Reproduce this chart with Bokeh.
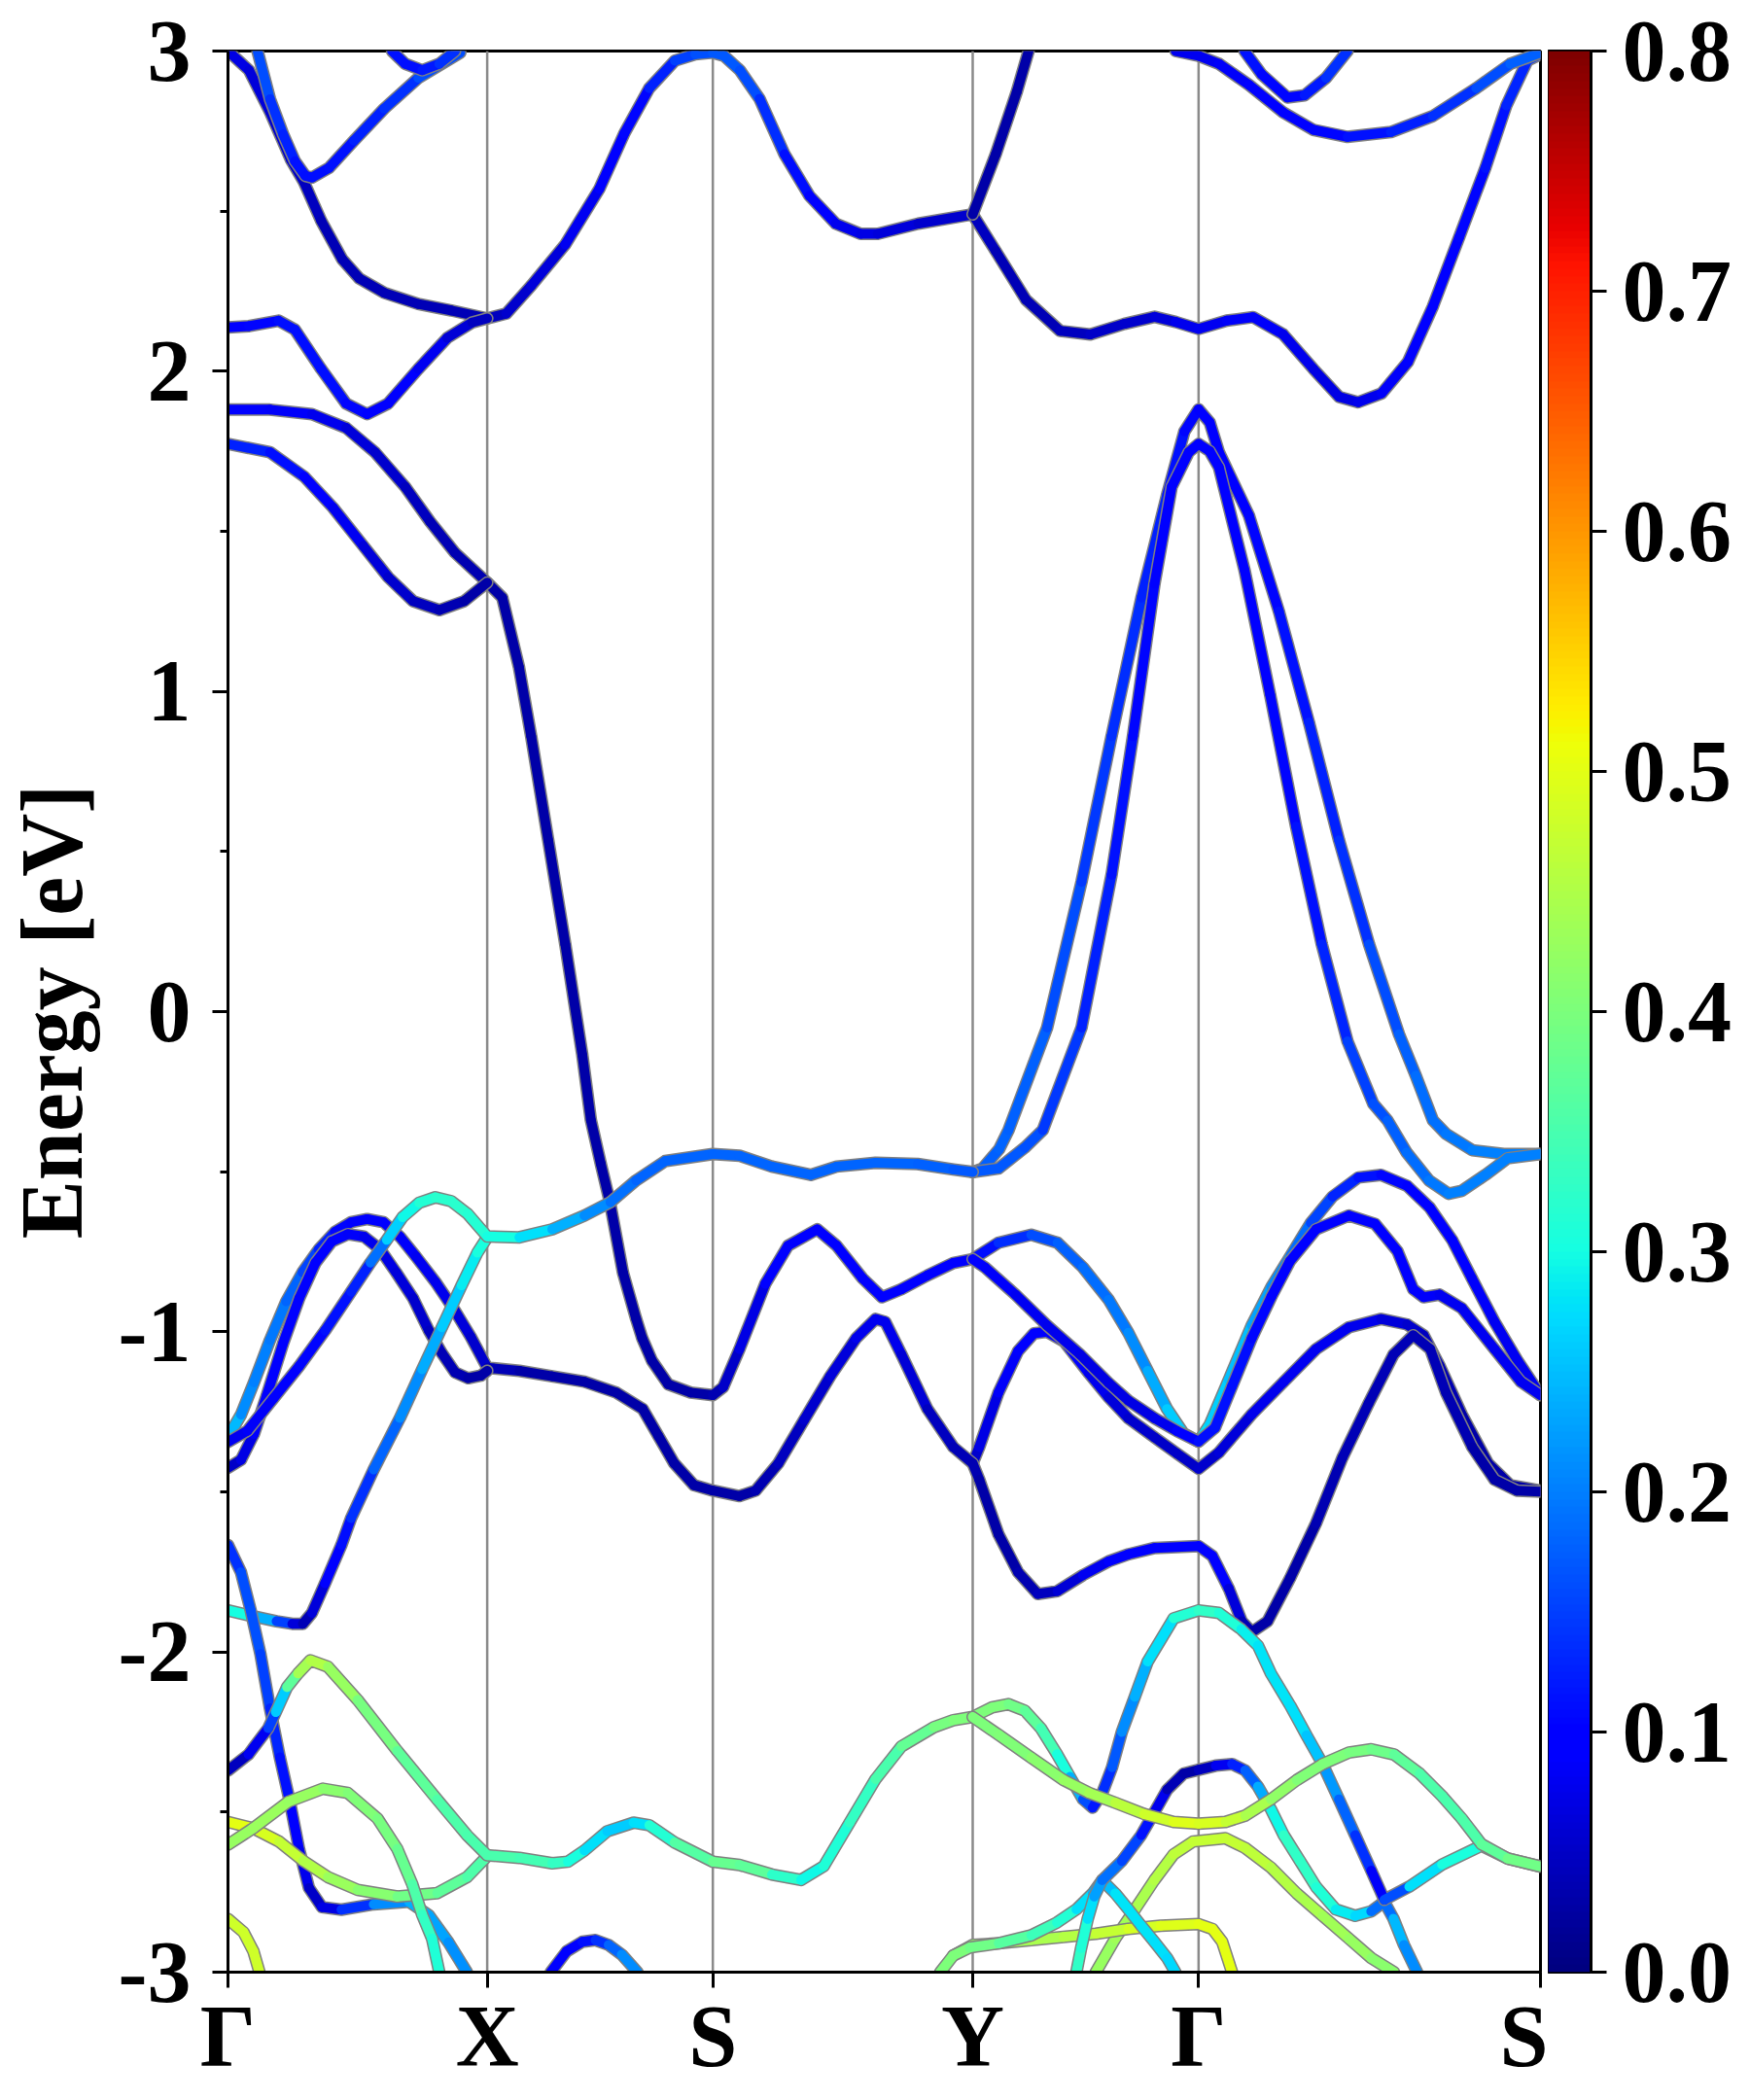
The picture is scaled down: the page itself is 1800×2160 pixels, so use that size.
import numpy as np
from bokeh.plotting import figure
from bokeh.layouts import row
from bokeh.models import FixedTicker, PrintfTickFormatter, ColumnDataSource, LinearColorMapper, Range1d
from bokeh.transform import linear_cmap
from bokeh.embed import file_html
from bokeh.resources import INLINE

# ---------------- data ----------------
k_ticks = [0, 0.1975, 0.3694, 0.5674, 0.7395, 1]
k_labels = ["Γ", "X", "S", "Y", "Γ", "S"]
e_ticks = [-3, -2, -1, 0, 1, 2, 3]
e_minor = [-2.5, -1.5, -0.5, 0.5, 1.5, 2.5]
cbar_ticks = [0.0, 0.1, 0.2, 0.3, 0.4, 0.5, 0.6, 0.7, 0.8]

# each band: (k, energy [eV], weight)
band_top_a = [(0.000, 3.00, 0.07), (0.016, 2.94, 0.07), (0.032, 2.81, 0.06), (0.048, 2.66, 0.05), (0.058, 2.59, 0.05),
              (0.071, 2.47, 0.04), (0.087, 2.35, 0.04), (0.100, 2.29, 0.04), (0.119, 2.245, 0.04), (0.145, 2.21, 0.04),
              (0.170, 2.19, 0.04), (0.1975, 2.165, 0.04), (0.212, 2.18, 0.05), (0.231, 2.267, 0.06), (0.257, 2.396, 0.07),
              (0.283, 2.57, 0.09), (0.302, 2.743, 0.10), (0.321, 2.884, 0.11), (0.3405, 2.97, 0.14), (0.356, 2.99, 0.16),
              (0.3694, 2.995, 0.17), (0.378, 2.985, 0.17),
              (0.390, 2.94, 0.17), (0.405, 2.851, 0.15), (0.424, 2.678, 0.12), (0.443, 2.548, 0.10), (0.463, 2.461, 0.08),
              (0.482, 2.429, 0.07), (0.495, 2.429, 0.07), (0.526, 2.461, 0.06), (0.5674, 2.49, 0.05), (0.585, 2.375, 0.04),
              (0.608, 2.223, 0.04), (0.634, 2.126, 0.04), (0.657, 2.115, 0.05), (0.683, 2.148, 0.05), (0.706, 2.17, 0.06),
              (0.722, 2.154, 0.07), (0.7395, 2.132, 0.08), (0.761, 2.158, 0.08), (0.781, 2.169, 0.09), (0.804, 2.115, 0.08),
              (0.827, 2.007, 0.07), (0.8465, 1.92, 0.07), (0.861, 1.903, 0.07), (0.879, 1.931, 0.08), (0.899, 2.029, 0.09),
              (0.918, 2.202, 0.10), (0.938, 2.418, 0.10), (0.958, 2.635, 0.11), (0.974, 2.83, 0.12), (0.990, 2.97, 0.14),
              (1.000, 2.99, 0.15)]
band_top_b = [(0.0225, 3.0, 0.17), (0.032, 2.85, 0.15), (0.042, 2.74, 0.13), (0.051, 2.656, 0.12), (0.059, 2.61, 0.11),
              (0.064, 2.605, 0.11), (0.077, 2.635, 0.11), (0.096, 2.72, 0.12), (0.119, 2.82, 0.13), (0.145, 2.916, 0.15),
              (0.177, 2.995, 0.17)]
band_top_c = [(0.125, 3.0, 0.12), (0.135, 2.96, 0.11), (0.148, 2.94, 0.11), (0.161, 2.96, 0.13), (0.173, 3.0, 0.15)]
band_l1 = [(0.000, 2.137, 0.10), (0.016, 2.141, 0.10), (0.0385, 2.158, 0.11), (0.051, 2.13, 0.11), (0.071, 2.007, 0.11),
           (0.090, 1.899, 0.11), (0.106, 1.866, 0.10), (0.122, 1.899, 0.10), (0.145, 2.007, 0.09), (0.167, 2.104, 0.07),
           (0.186, 2.152, 0.05), (0.1975, 2.165, 0.04)]
band_l2 = [(0.000, 1.88, 0.09), (0.032, 1.88, 0.09), (0.064, 1.866, 0.08), (0.090, 1.823, 0.07), (0.112, 1.747, 0.06),
           (0.135, 1.639, 0.05), (0.154, 1.53, 0.04), (0.173, 1.433, 0.04), (0.1975, 1.34, 0.03), (0.209, 1.293, 0.03),
           (0.2217, 1.076, 0.03), (0.231, 0.86, 0.03), (0.244, 0.535, 0.03), (0.257, 0.21, 0.03), (0.270, -0.136, 0.03),
           (0.2765, -0.339, 0.03), (0.284, -0.475, 0.03), (0.291, -0.595, 0.03), (0.301, -0.816, 0.03), (0.311, -0.96, 0.03),
           (0.3156, -1.02, 0.03), (0.323, -1.09, 0.03), (0.3354, -1.164, 0.03), (0.3526, -1.19, 0.03), (0.3694, -1.198, 0.03),
           (0.3773, -1.173, 0.04), (0.3897, -1.054, 0.06), (0.4094, -0.85, 0.08), (0.4267, -0.731, 0.10), (0.449, -0.68, 0.10),
           (0.4637, -0.731, 0.10), (0.4835, -0.833, 0.10), (0.4983, -0.892, 0.10), (0.5131, -0.867, 0.10), (0.5329, -0.824, 0.10),
           (0.5526, -0.785, 0.10), (0.5674, -0.773, 0.10), (0.587, -0.722, 0.12), (0.612, -0.697, 0.15), (0.632, -0.722, 0.17),
           (0.6514, -0.799, 0.18), (0.671, -0.90, 0.19), (0.686, -1.003, 0.20), (0.7007, -1.122, 0.22), (0.7155, -1.241, 0.25),
           (0.7279, -1.317, 0.27), (0.7395, -1.343, 0.28), (0.748, -1.29, 0.27), (0.7625, -1.15, 0.26), (0.780, -0.98, 0.24),
           (0.795, -0.86, 0.22), (0.810, -0.76, 0.20), (0.825, -0.66, 0.17), (0.8415, -0.578, 0.14), (0.8612, -0.518, 0.12),
           (0.8785, -0.51, 0.11), (0.8983, -0.544, 0.10), (0.9156, -0.612, 0.10), (0.9328, -0.714, 0.09), (0.9477, -0.833, 0.09),
           (0.965, -0.969, 0.08), (0.9822, -1.088, 0.08), (1.000, -1.198, 0.08)]
band_l3 = [(0.000, 1.773, 0.13), (0.032, 1.747, 0.12), (0.058, 1.671, 0.10), (0.080, 1.574, 0.09), (0.103, 1.455, 0.07),
           (0.122, 1.357, 0.06), (0.141, 1.282, 0.05), (0.161, 1.254, 0.04), (0.180, 1.282, 0.03), (0.1975, 1.34, 0.03)]
band_y_up = [(0.5674, 2.49, 0.03), (0.585, 2.678, 0.03), (0.601, 2.873, 0.03), (0.610, 3.0, 0.03)]
band_tr1 = [(0.7745, 3.0, 0.12), (0.7876, 2.927, 0.11), (0.8072, 2.855, 0.10), (0.8203, 2.862, 0.11), (0.8366, 2.916, 0.13),
            (0.853, 3.0, 0.15)]
band_tr2 = [(0.722, 3.0, 0.08), (0.7395, 2.985, 0.08), (0.755, 2.96, 0.08), (0.778, 2.894, 0.09), (0.804, 2.808, 0.10),
            (0.827, 2.754, 0.10), (0.853, 2.732, 0.11), (0.886, 2.747, 0.12), (0.918, 2.797, 0.13), (0.951, 2.884, 0.15),
            (0.977, 2.96, 0.17), (1.000, 2.995, 0.18)]
band_pk1 = [(0.5674, -0.501, 0.17), (0.5749, -0.49, 0.17), (0.5875, -0.43, 0.18), (0.5947, -0.37, 0.18), (0.6241, -0.05, 0.17),
            (0.6503, 0.405, 0.15), (0.6732, 0.86, 0.14), (0.696, 1.293, 0.13), (0.7157, 1.617, 0.12), (0.7287, 1.812, 0.11),
            (0.7395, 1.881, 0.10), (0.748, 1.84, 0.10), (0.755, 1.747, 0.10), (0.7778, 1.55, 0.10), (0.8007, 1.25, 0.11),
            (0.8236, 0.903, 0.12), (0.8465, 0.535, 0.13), (0.8694, 0.21, 0.15), (0.8922, -0.071, 0.17), (0.905, -0.20, 0.18),
            (0.918, -0.339, 0.19), (0.928, -0.382, 0.19), (0.948, -0.433, 0.20), (0.972, -0.445, 0.20), (1.000, -0.445, 0.20)]
band_pk2 = [(0.5674, -0.501, 0.17), (0.587, -0.49, 0.17), (0.607, -0.425, 0.17), (0.6208, -0.37, 0.16), (0.6503, -0.05, 0.13),
            (0.6732, 0.427, 0.12), (0.6895, 0.86, 0.11), (0.7059, 1.336, 0.10), (0.719, 1.639, 0.10), (0.732, 1.747, 0.10),
            (0.7395, 1.773, 0.10), (0.748, 1.75, 0.10), (0.755, 1.70, 0.10), (0.7745, 1.379, 0.10), (0.794, 0.99, 0.10),
            (0.8138, 0.578, 0.11), (0.8334, 0.21, 0.12), (0.853, -0.093, 0.14), (0.8726, -0.288, 0.16), (0.8835, -0.34, 0.17),
            (0.898, -0.44, 0.18), (0.915, -0.527, 0.19), (0.930, -0.569, 0.20), (0.940, -0.56, 0.20), (0.958, -0.51, 0.20),
            (0.975, -0.458, 0.20), (1.000, -0.445, 0.20)]
band_cy = [(0.000, -1.344, 0.08), (0.0148, -1.309, 0.08), (0.0346, -1.208, 0.09), (0.0543, -1.107, 0.10), (0.074, -0.996, 0.11),
           (0.0938, -0.875, 0.12), (0.1086, -0.784, 0.13), (0.121, -0.713, 0.25), (0.133, -0.642, 0.28), (0.1457, -0.597, 0.31),
           (0.158, -0.58, 0.32), (0.170, -0.592, 0.32), (0.1827, -0.632, 0.32), (0.1975, -0.702, 0.31), (0.222, -0.705, 0.29),
           (0.247, -0.68, 0.26), (0.2716, -0.637, 0.22), (0.2914, -0.595, 0.20), (0.311, -0.527, 0.18), (0.333, -0.467, 0.18),
           (0.3694, -0.445, 0.18), (0.3897, -0.45, 0.18), (0.4144, -0.484, 0.18), (0.444, -0.51, 0.18), (0.4637, -0.484, 0.18),
           (0.4934, -0.472, 0.18), (0.5255, -0.476, 0.18), (0.5526, -0.493, 0.17), (0.5674, -0.501, 0.17)]
band_dg = [(0.000, -1.87, 0.32), (0.0173, -1.887, 0.28), (0.037, -1.904, 0.20), (0.049, -1.912, 0.10), (0.057, -1.912, 0.03),
           (0.064, -1.878, 0.05), (0.074, -1.785, 0.08), (0.0864, -1.666, 0.10), (0.0938, -1.582, 0.12), (0.111, -1.43, 0.16),
           (0.131, -1.269, 0.20), (0.148, -1.117, 0.22), (0.163, -0.986, 0.25), (0.178, -0.855, 0.27), (0.190, -0.753, 0.30),
           (0.1975, -0.705, 0.31)]
band_ba1 = [(0.000, -1.329, 0.27), (0.0099, -1.259, 0.22), (0.0198, -1.158, 0.20), (0.032, -1.026, 0.20), (0.0444, -0.905, 0.19),
            (0.0568, -0.814, 0.17), (0.0691, -0.743, 0.14), (0.0815, -0.688, 0.11), (0.0938, -0.658, 0.10), (0.106, -0.648, 0.10),
            (0.1185, -0.658, 0.09), (0.131, -0.703, 0.09), (0.143, -0.764, 0.08), (0.158, -0.844, 0.08), (0.173, -0.935, 0.07),
            (0.185, -1.016, 0.06), (0.1975, -1.112, 0.05), (0.222, -1.122, 0.03), (0.247, -1.139, 0.03), (0.2716, -1.156, 0.03),
            (0.296, -1.19, 0.03), (0.316, -1.241, 0.03), (0.328, -1.326, 0.03), (0.340, -1.411, 0.03), (0.355, -1.479, 0.03),
            (0.3694, -1.496, 0.03), (0.3897, -1.513, 0.03), (0.402, -1.496, 0.03), (0.4193, -1.411, 0.04), (0.439, -1.275, 0.05),
            (0.4588, -1.139, 0.06), (0.4786, -1.02, 0.07), (0.4934, -0.96, 0.08), (0.5008, -0.969, 0.08), (0.5131, -1.071, 0.07),
            (0.5329, -1.241, 0.05), (0.5526, -1.36, 0.04), (0.5674, -1.411, 0.04), (0.5724, -1.462, 0.03), (0.587, -1.632, 0.03),
            (0.602, -1.751, 0.03), (0.617, -1.819, 0.04), (0.632, -1.81, 0.05), (0.6514, -1.76, 0.07), (0.671, -1.717, 0.09),
            (0.686, -1.695, 0.10), (0.706, -1.675, 0.10), (0.7395, -1.669, 0.10), (0.750, -1.70, 0.10), (0.7625, -1.802, 0.08),
            (0.7724, -1.904, 0.05), (0.780, -1.938, 0.03), (0.7921, -1.904, 0.03), (0.8094, -1.768, 0.03), (0.829, -1.598, 0.03),
            (0.849, -1.394, 0.04), (0.869, -1.224, 0.04), (0.888, -1.071, 0.04), (0.903, -1.011, 0.04), (0.916, -1.054, 0.04),
            (0.928, -1.19, 0.04), (0.948, -1.36, 0.03), (0.965, -1.462, 0.03), (0.982, -1.496, 0.03), (1.000, -1.499, 0.03)]
band_ba2 = [(0.000, -1.425, 0.04), (0.0099, -1.40, 0.06), (0.0198, -1.319, 0.08), (0.0296, -1.198, 0.10), (0.042, -1.036, 0.10),
            (0.0543, -0.895, 0.10), (0.0667, -0.784, 0.10), (0.079, -0.718, 0.10), (0.0914, -0.695, 0.09), (0.1037, -0.703, 0.08),
            (0.116, -0.743, 0.07), (0.128, -0.814, 0.07), (0.141, -0.895, 0.06), (0.153, -0.996, 0.05), (0.163, -1.067, 0.04),
            (0.173, -1.127, 0.04), (0.183, -1.145, 0.03), (0.1926, -1.137, 0.03), (0.1975, -1.122, 0.03)]
band_d1 = [(0.5674, -0.773, 0.10), (0.577, -0.80, 0.09), (0.600, -0.884, 0.08), (0.624, -0.98, 0.08), (0.649, -1.07, 0.07),
           (0.671, -1.16, 0.07), (0.686, -1.215, 0.07), (0.706, -1.27, 0.07), (0.723, -1.31, 0.08), (0.7395, -1.343, 0.10),
           (0.752, -1.30, 0.12), (0.765, -1.17, 0.11), (0.780, -1.02, 0.11), (0.795, -0.89, 0.10), (0.809, -0.78, 0.10),
           (0.829, -0.68, 0.10), (0.854, -0.637, 0.10), (0.874, -0.663, 0.09), (0.891, -0.748, 0.09), (0.903, -0.867, 0.09),
           (0.911, -0.892, 0.09), (0.923, -0.884, 0.08), (0.940, -0.926, 0.08), (0.965, -1.054, 0.08), (0.985, -1.156, 0.08),
           (1.000, -1.198, 0.08)]
band_d2 = [(0.5674, -1.411, 0.05), (0.5724, -1.36, 0.06), (0.587, -1.19, 0.08), (0.602, -1.06, 0.09), (0.614, -1.005, 0.10),
           (0.624, -1.00, 0.10), (0.637, -1.03, 0.10), (0.656, -1.13, 0.08), (0.671, -1.205, 0.07), (0.686, -1.27, 0.06),
           (0.706, -1.33, 0.05), (0.723, -1.38, 0.05), (0.7395, -1.428, 0.05), (0.755, -1.377, 0.06), (0.780, -1.258, 0.07),
           (0.8044, -1.156, 0.08), (0.829, -1.054, 0.08), (0.854, -0.986, 0.08), (0.8785, -0.96, 0.07), (0.8983, -0.977, 0.06),
           (0.911, -1.011, 0.05), (0.923, -1.105, 0.04), (0.940, -1.258, 0.03), (0.960, -1.411, 0.03), (0.977, -1.479, 0.03),
           (1.000, -1.496, 0.03)]
band_steep = [(0.000, -1.666, 0.13), (0.0099, -1.751, 0.15), (0.0173, -1.87, 0.17), (0.0247, -2.006, 0.16), (0.032, -2.176, 0.14),
              (0.0395, -2.329, 0.12), (0.047, -2.465, 0.11), (0.0543, -2.618, 0.09), (0.0617, -2.737, 0.06), (0.0716, -2.797, 0.04),
              (0.0864, -2.805, 0.10), (0.111, -2.788, 0.18), (0.138, -2.78, 0.24), (0.153, -2.822, 0.24), (0.168, -2.907, 0.22),
              (0.182, -3.0, 0.21)]
band_green = [(0.000, -2.37, 0.03), (0.0156, -2.32, 0.06), (0.0307, -2.238, 0.10), (0.0364, -2.188, 0.20), (0.045, -2.11, 0.32),
              (0.0534, -2.067, 0.42), (0.0628, -2.026, 0.46), (0.0761, -2.046, 0.44), (0.0988, -2.15, 0.41), (0.129, -2.309, 0.38),
              (0.1594, -2.461, 0.36), (0.1821, -2.572, 0.35), (0.1975, -2.635, 0.35), (0.222, -2.643, 0.35), (0.247, -2.66, 0.34),
              (0.259, -2.655, 0.32), (0.2716, -2.62, 0.29), (0.289, -2.56, 0.26), (0.309, -2.533, 0.26), (0.321, -2.541, 0.29),
              (0.3403, -2.595, 0.34), (0.3694, -2.655, 0.38), (0.3897, -2.665, 0.38), (0.4144, -2.695, 0.36), (0.4366, -2.712, 0.29),
              (0.4539, -2.669, 0.30), (0.4736, -2.533, 0.32), (0.4934, -2.397, 0.34), (0.5131, -2.295, 0.36), (0.5378, -2.235, 0.39),
              (0.5526, -2.213, 0.40), (0.5674, -2.203, 0.40), (0.5822, -2.173, 0.40), (0.5946, -2.163, 0.40), (0.607, -2.183, 0.38),
              (0.6193, -2.238, 0.36), (0.6316, -2.319, 0.33), (0.6415, -2.39, 0.28), (0.6514, -2.46, 0.20), (0.6588, -2.486, 0.12),
              (0.6662, -2.44, 0.12), (0.6736, -2.36, 0.15), (0.681, -2.25, 0.19), (0.6909, -2.14, 0.23), (0.7007, -2.03, 0.25),
              (0.7205, -1.895, 0.30), (0.7395, -1.87, 0.33), (0.755, -1.878, 0.32), (0.772, -1.929, 0.30), (0.7847, -1.98, 0.28),
              (0.7946, -2.067, 0.28), (0.8094, -2.168, 0.28), (0.8217, -2.26, 0.27), (0.834, -2.35, 0.24), (0.8464, -2.46, 0.20),
              (0.8588, -2.572, 0.16), (0.8711, -2.683, 0.12), (0.881, -2.774, 0.05), (0.900, -2.733, 0.27), (0.925, -2.664, 0.28),
              (0.955, -2.605, 0.33), (0.975, -2.645, 0.38), (1.000, -2.67, 0.40)]
band_yellow = [(0.000, -2.531, 0.50), (0.0194, -2.551, 0.50), (0.0389, -2.592, 0.48), (0.0572, -2.652, 0.46), (0.0761, -2.703, 0.44),
               (0.0988, -2.743, 0.42), (0.129, -2.764, 0.40), (0.1594, -2.753, 0.38), (0.1821, -2.703, 0.36), (0.1975, -2.638, 0.35)]
band_lgreen = [(0.000, -2.602, 0.42), (0.0194, -2.55, 0.43), (0.0459, -2.468, 0.43), (0.0723, -2.427, 0.42), (0.0912, -2.44, 0.41),
               (0.1139, -2.52, 0.40), (0.129, -2.615, 0.39), (0.1404, -2.725, 0.37), (0.1479, -2.82, 0.34), (0.1555, -2.895, 0.32),
               (0.161, -3.0, 0.30)]
band_ybot = [(0.000, -2.834, 0.48), (0.0118, -2.875, 0.48), (0.0194, -2.935, 0.48), (0.024, -3.0, 0.48)]
band_bump = [(0.246, -3.0, 0.10), (0.258, -2.935, 0.10), (0.270, -2.905, 0.10), (0.280, -2.90, 0.12), (0.290, -2.915, 0.16),
             (0.300, -2.945, 0.20), (0.312, -3.0, 0.22)]
band_ylow = [(0.5674, -2.203, 0.40), (0.5872, -2.259, 0.40), (0.612, -2.33, 0.41), (0.6366, -2.40, 0.42), (0.656, -2.44, 0.43),
             (0.676, -2.471, 0.45), (0.698, -2.506, 0.47), (0.7205, -2.531, 0.49), (0.7395, -2.536, 0.50), (0.760, -2.531, 0.48),
             (0.775, -2.511, 0.46), (0.7946, -2.46, 0.43), (0.8143, -2.40, 0.41), (0.834, -2.35, 0.40), (0.854, -2.314, 0.40),
             (0.8711, -2.304, 0.39), (0.8884, -2.32, 0.38), (0.908, -2.38, 0.36), (0.925, -2.45, 0.35), (0.940, -2.52, 0.35),
             (0.955, -2.60, 0.36), (0.975, -2.645, 0.38), (1.000, -2.67, 0.40)]
band_p = [(0.6464, -3.0, 0.33), (0.650, -2.925, 0.32), (0.655, -2.834, 0.30), (0.660, -2.764, 0.25), (0.666, -2.713, 0.20),
          (0.681, -2.653, 0.18), (0.6958, -2.572, 0.13), (0.7057, -2.501, 0.10), (0.7156, -2.43, 0.05), (0.728, -2.38, 0.03),
          (0.7395, -2.368, 0.03), (0.7526, -2.355, 0.06), (0.765, -2.35, 0.10), (0.775, -2.37, 0.15), (0.7847, -2.42, 0.20),
          (0.7946, -2.491, 0.27), (0.8044, -2.572, 0.32), (0.8168, -2.653, 0.33), (0.8291, -2.734, 0.32), (0.844, -2.804, 0.30),
          (0.8588, -2.824, 0.27), (0.871, -2.81, 0.27), (0.881, -2.78, 0.10), (0.888, -2.833, 0.27), (0.896, -2.915, 0.22),
          (0.906, -3.0, 0.20)]
band_q = [(0.5427, -3.0, 0.40), (0.5526, -2.948, 0.40), (0.565, -2.923, 0.40), (0.5872, -2.91, 0.38), (0.612, -2.885, 0.35),
          (0.6316, -2.845, 0.33), (0.6464, -2.804, 0.30), (0.6588, -2.754, 0.25), (0.666, -2.713, 0.22), (0.676, -2.754, 0.28),
          (0.686, -2.804, 0.28), (0.6958, -2.855, 0.28), (0.7057, -2.905, 0.28), (0.7156, -2.956, 0.27), (0.7218, -3.0, 0.27)]
band_ybottom = [(0.5526, -2.948, 0.42), (0.5674, -2.915, 0.42), (0.5872, -2.91, 0.43), (0.612, -2.90, 0.44), (0.6366, -2.89, 0.45),
                (0.6612, -2.88, 0.46), (0.686, -2.865, 0.48), (0.7106, -2.855, 0.49), (0.7395, -2.85, 0.50), (0.750, -2.865, 0.50),
                (0.7575, -2.905, 0.50), (0.765, -3.0, 0.50)]
band_gy = [(0.6612, -3.0, 0.42), (0.676, -2.895, 0.43), (0.691, -2.804, 0.44), (0.7057, -2.713, 0.45), (0.7205, -2.632, 0.46),
           (0.7353, -2.592, 0.47), (0.760, -2.582, 0.47), (0.775, -2.612, 0.47), (0.7946, -2.673, 0.46), (0.8143, -2.754, 0.45),
           (0.834, -2.824, 0.44), (0.854, -2.895, 0.43), (0.8711, -2.956, 0.42), (0.8884, -3.0, 0.41)]

bands = [band_top_a, band_top_b, band_top_c, band_l1, band_l2, band_l3, band_y_up, band_tr1, band_tr2,
         band_pk1, band_pk2, band_d2, band_ba1, band_ba2, band_d1, band_dg, band_cy,
         band_steep, band_ybot, band_bump, band_gy, band_ybottom, band_q, band_p,
         band_yellow, band_lgreen, band_green, band_ylow]

# ---------------- style ----------------
def jet_palette(n=256):
    t = np.linspace(0, 1, n)
    r = np.interp(t, [0, 0.35, 0.66, 0.89, 1], [0, 0, 1, 1, 0.5])
    g = np.interp(t, [0, 0.125, 0.375, 0.64, 0.91, 1], [0, 0, 1, 1, 0, 0])
    b = np.interp(t, [0, 0.11, 0.34, 0.65, 1], [0.5, 1, 1, 0, 0])
    return ["#%02x%02x%02x" % (int(round(a * 255)), int(round(c * 255)), int(round(d * 255))) for a, c, d in zip(r, g, b)]

JET = jet_palette()
FONT = "Liberation Serif"
FS = "90px"
VMIN, VMAX = 0.0, 0.8
TOP, FH, BOTTOM = 52, 1976, 120

p = figure(frame_width=1350, frame_height=FH, min_border_left=234, min_border_right=8,
           min_border_top=TOP, min_border_bottom=BOTTOM,
           x_range=Range1d(0, 1), y_range=Range1d(-3, 3),
           output_backend="svg", toolbar_location=None)
p.xgrid.visible = False
p.ygrid.visible = False
p.outline_line_color = "black"
p.outline_line_width = 3
p.background_fill_color = "white"

# high-symmetry lines
inner = k_ticks[1:-1]
p.segment(x0=inner, y0=[-3] * len(inner), x1=inner, y1=[3] * len(inner),
          line_color="#8a8a8a", line_width=2.5)

for band in bands:
    ks = [b[0] for b in band]
    es = [b[1] for b in band]
    ws = [b[2] for b in band]
    p.line(ks, es, line_color="#808080", line_width=13, line_join="round", line_cap="round")
    src = ColumnDataSource(dict(x0=ks[:-1], x1=ks[1:], y0=es[:-1], y1=es[1:],
                                w=[(a + c) / 2 for a, c in zip(ws[:-1], ws[1:])]))
    p.segment("x0", "y0", "x1", "y1", source=src, line_width=10, line_cap="round",
              line_color=linear_cmap("w", JET, VMIN, VMAX))

# axes
xa = p.xaxis[0]
xa.ticker = FixedTicker(ticks=k_ticks, minor_ticks=[])
xa.major_label_overrides = {t: l for t, l in zip(k_ticks, k_labels)}
ya = p.yaxis[0]
ya.ticker = FixedTicker(ticks=e_ticks, minor_ticks=e_minor)
ya.formatter = PrintfTickFormatter(format="%d")
ya.axis_label = "Energy [eV]"
for ax in (xa, ya):
    ax.axis_line_width = 3
    ax.axis_line_color = "black"
    ax.major_tick_out = 16
    ax.major_tick_in = 0
    ax.major_tick_line_width = 3
    ax.minor_tick_out = 8
    ax.minor_tick_in = 0
    ax.minor_tick_line_width = 3
    ax.major_label_text_font = FONT
    ax.major_label_text_font_style = "bold"
    ax.major_label_text_font_size = FS
    ax.major_label_text_color = "black"
    ax.axis_label_text_font = FONT
    ax.axis_label_text_font_style = "bold"
    ax.axis_label_text_font_size = FS
    ax.axis_label_text_color = "black"
xa.major_label_standoff = 0
ya.major_label_standoff = 22
ya.axis_label_standoff = 16

# colour bar figure
cb = figure(frame_width=44, frame_height=FH, min_border_left=0, min_border_right=0,
            min_border_top=TOP, min_border_bottom=BOTTOM,
            x_range=Range1d(0, 1), y_range=Range1d(VMIN, VMAX),
            x_axis_location=None, y_axis_location="right",
            output_backend="svg", toolbar_location=None)
cb.xgrid.visible = False
cb.ygrid.visible = False
cb.outline_line_color = "black"
cb.outline_line_width = 3
grad = np.linspace(VMIN, VMAX, 256).reshape(256, 1)
cb.image(image=[grad], x=0, y=VMIN, dw=1, dh=VMAX - VMIN,
         color_mapper=LinearColorMapper(palette=JET, low=VMIN, high=VMAX))
cya = cb.yaxis[0]
cya.ticker = FixedTicker(ticks=cbar_ticks, minor_ticks=[])
cya.formatter = PrintfTickFormatter(format="%.1f")
cya.axis_line_width = 3
cya.major_tick_out = 16
cya.major_tick_in = 0
cya.major_tick_line_width = 3
cya.major_label_standoff = 16
cya.major_label_text_font = FONT
cya.major_label_text_font_style = "bold"
cya.major_label_text_font_size = FS
cya.major_label_text_color = "black"

layout = row(p, cb, spacing=0)
open("out.html", "w").write(file_html(layout, INLINE))
